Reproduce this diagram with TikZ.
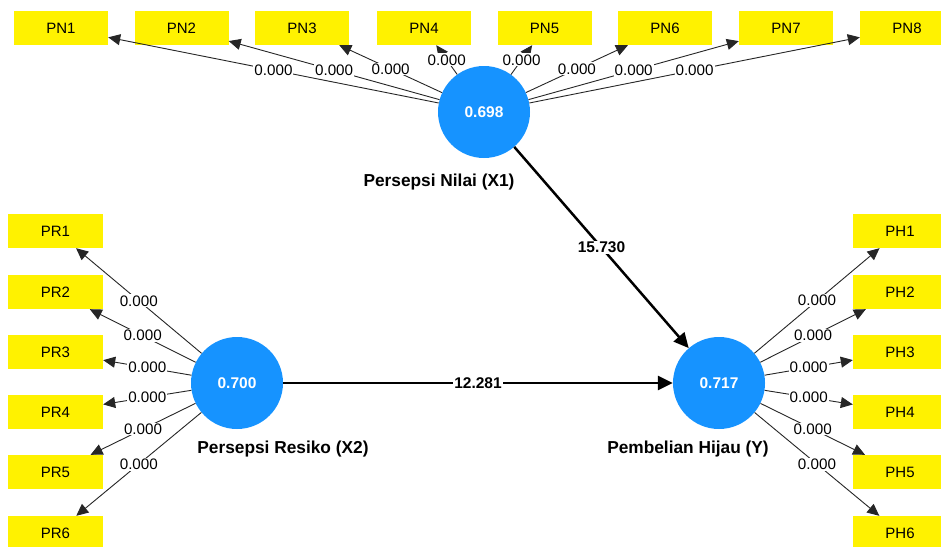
\documentclass[tikz,border=0pt]{standalone}
\usepackage{fontspec}
\setmainfont{Liberation Sans}
\usetikzlibrary{arrows.meta}
\definecolor{lvblue}{RGB}{22,147,255}
\begin{document}
\begin{tikzpicture}[x=1pt,y=-1pt,
 ind/.style={fill=yellow, minimum width=94pt, minimum height=34pt, inner sep=0pt, font=\fontsize{15}{18}\selectfont},
 lv/.style={circle, fill=lvblue, minimum size=92pt, inner sep=0pt, text=white, font=\bfseries\fontsize{15.5}{18}\selectfont},
 lvname/.style={font=\bfseries\fontsize{17.3}{20}\selectfont},
 ld/.style={draw=black!85, line width=0.9pt, -{Triangle[length=12pt,width=11pt]}},
 lbl/.style={fill=white, inner sep=1pt, font=\fontsize{15.2}{18}\selectfont},
 sp/.style={draw=black, line width=2.5pt, -{Triangle[length=15pt,width=14pt]}},
 splbl/.style={fill=white, inner sep=1pt, font=\bfseries\fontsize{15.5}{18}\selectfont}
]
\clip (0,0) rectangle (941,546);
\fill[white] (0,0) rectangle (941,546);

% latent variables
\node[lv] (X1) at (484,112) {0.698};
\node[lv] (X2) at (237,383) {0.700};
\node[lv] (Y) at (719,383) {0.717};
\node[lvname] (nX1) at (439,182) {Persepsi Nilai (X1)};
\node[lvname] (nX2) at (283,449) {Persepsi Resiko (X2)};
\node[lvname] (nY) at (688,449) {Pembelian Hijau (Y)};

% indicators
\foreach \i/\x in {1/61,2/181.5,3/302,4/424,5/544.5,6/665,7/786,8/907}
  \node[ind] (PN\i) at (\x,28) {PN\i};
\foreach \i/\y in {1/231,2/292,3/352,4/412,5/472,6/533}{
  \node[ind, minimum width=95pt] (PR\i) at (55.5,\y) {PR\i};
  \node[ind] (PH\i) at (900,\y) {PH\i};
}

% outer loadings lines
\foreach \i in {1,...,8} \draw[ld] (X1) -- (PN\i);
\foreach \i in {1,...,6} {
  \draw[ld] (X2) -- (PR\i);
  \draw[ld] (Y) -- (PH\i);
}
% labels
\foreach \i in {1,...,8} \path (X1) -- (PN\i) node[midway,lbl] (lPN\i) {0.000};
\foreach \i in {1,...,6} {
  \path (X2) -- (PR\i) node[midway,lbl] (lPR\i) {0.000};
  \path (Y) -- (PH\i) node[midway,lbl] (lPH\i) {0.000};
}

% structural paths
\draw[sp] (X1) -- (Y) node[midway,splbl] (l1) {15.730};
\draw[sp] (X2) -- (Y) node[midway,splbl] (l2) {12.281};
\end{tikzpicture}
\end{document}
